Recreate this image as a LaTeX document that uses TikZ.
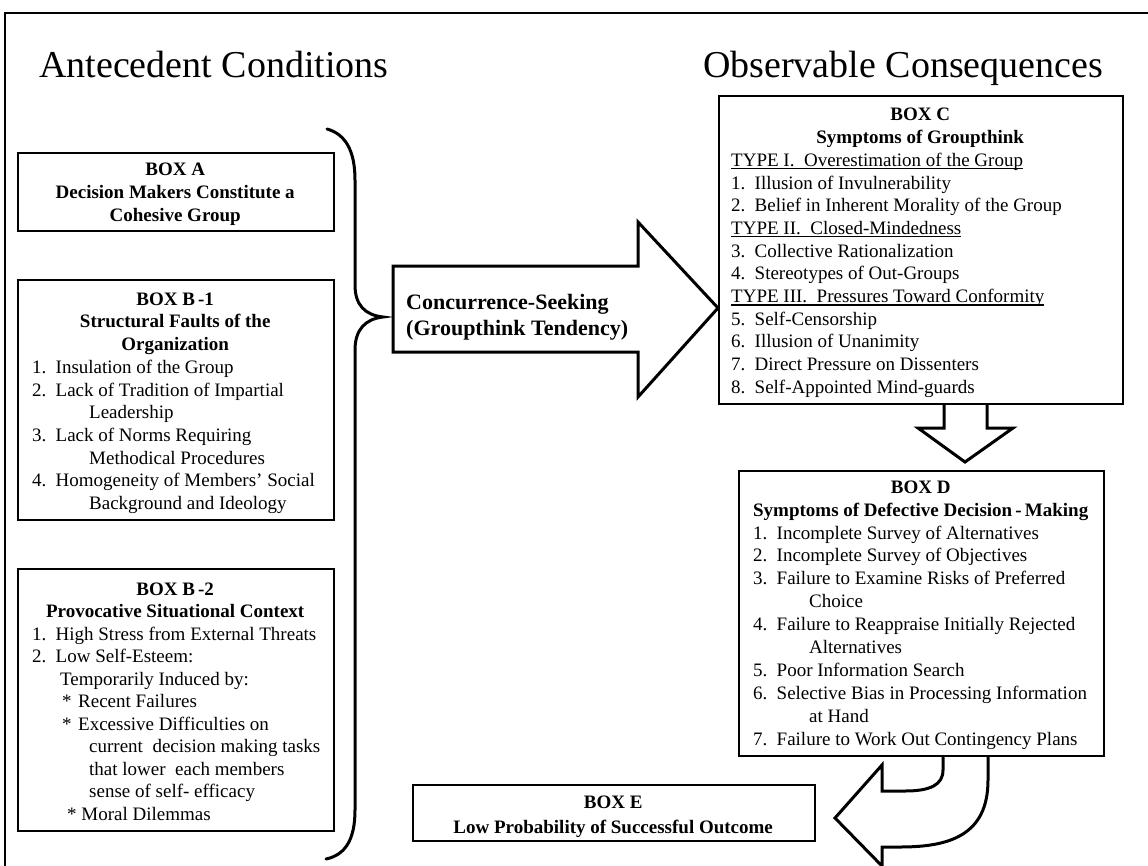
\documentclass[tikz,border=0pt]{standalone}
\usepackage{fontspec}
\setmainfont{Liberation Serif}
\newcommand\fst{\rule{0pt}{15pt}}
\newcommand\cl[2]{\makebox[#1pt][c]{#2}}
\newcommand\nm[1]{\makebox[23.5pt][l]{#1}}
\newcommand\myul[1]{\setbox0\hbox{#1}\rlap{\rule[-3pt]{\wd0}{1.6pt}}\box0}
\begin{document}
\begin{tikzpicture}[x=1pt,y=-1pt,
  box/.style={draw,line width=2pt,inner sep=0,anchor=north west},
  txt/.style={inner sep=0,anchor=north west,align=left,font=\fontsize{19}{22.7}\selectfont},
  title/.style={inner sep=0,anchor=base west,font=\fontsize{38}{44}\selectfont},
  blk/.style={draw,line width=3pt,line join=miter,fill=white},
  brace/.style={draw,line width=3pt,line cap=round}]
\useasboundingbox (0,0) rectangle (1148,865);
% outer frame
\draw[line width=2pt] (5,870) -- (5,13) -- (1150,13);
% titles
\node[title] (tleft) at (39,77) {Antecedent Conditions};
\node[title] (tright) at (703,77) {Observable Consequences};
% boxes
\node[box,minimum width=316pt,minimum height=78pt] (boxA) at (17,152) {};
\node[box,minimum width=316pt,minimum height=240pt] (boxB1) at (17,279) {};
\node[box,minimum width=316pt,minimum height=262pt] (boxB2) at (17,568) {};
\node[box,minimum width=404pt,minimum height=308pt] (boxC) at (718,95) {};
\node[box,minimum width=365pt,minimum height=285pt] (boxD) at (738,470) {};
\node[box,minimum width=402pt,minimum height=56pt] (boxE) at (412,784) {};
% box texts
\node[txt,font=\fontsize{19}{23.3}\selectfont] (textA) at (32,160) {\fst\cl{286}{\textbf{BOX A}}\\
\cl{286}{\textbf{Decision Makers Constitute a}}\\
\cl{286}{\textbf{Cohesive Group}}};
\node[txt] (textB1) at (32,290) {\fst\cl{286}{\textbf{BOX B\,-1}}\\
\cl{286}{\textbf{Structural Faults of the}}\\
\cl{286}{\textbf{Organization}}\\
\nm{1.}Insulation of the Group\\
\nm{2.}Lack of Tradition of Impartial\\
\hspace*{57pt}Leadership\\
\nm{3.}Lack of Norms Requiring\\
\hspace*{57pt}Methodical Procedures\\
\nm{4.}Homogeneity of Members' Social\\
\hspace*{57pt}Background and Ideology};
\node[txt,font=\fontsize{19}{22.5}\selectfont] (textB2) at (32,580) {\fst\cl{286}{\textbf{BOX B\,-2}}\\
\cl{286}{\textbf{Provocative Situational Context}}\\
\nm{1.}High Stress from External Threats\\
\nm{2.}Low Self-Esteem:\\
\hspace*{28pt}Temporarily Induced by:\\
\hspace*{30pt}\makebox[16pt][l]{*}Recent Failures\\
\hspace*{30pt}\makebox[16pt][l]{*}Excessive Difficulties on\\
\hspace*{57pt}current\ \ decision making tasks\\
\hspace*{57pt}that lower\ \ each members\\
\hspace*{57pt}sense of self- efficacy\\
\hspace*{35pt}* Moral Dilemmas};
\node[txt] (textC) at (731,105.7) {\fst\cl{378}{\textbf{BOX C}}\\
\cl{378}{\textbf{Symptoms of Groupthink}}\\
\myul{TYPE I.\ \ Overestimation of the Group}\\
\nm{1.}Illusion of Invulnerability\\
\nm{2.}Belief in Inherent Morality of the Group\\
\myul{TYPE II.\ \ Closed-Mindedness}\\
\nm{3.}Collective Rationalization\\
\nm{4.}Stereotypes of Out-Groups\\
\myul{TYPE III.\ \ Pressures Toward Conformity}\\
\nm{5.}Self-Censorship\\
\nm{6.}Illusion of Unanimity\\
\nm{7.}Direct Pressure on Dissenters\\
\nm{8.}Self-Appointed Mind-guards};
\node[txt,font=\fontsize{19}{22.9}\selectfont] (textD) at (753,478) {\fst\cl{335}{\textbf{BOX D}}\\
\cl{335}{\textbf{Symptoms of Defective Decision\,-\,Making}}\\
\nm{1.}Incomplete Survey of Alternatives\\
\nm{2.}Incomplete Survey of Objectives\\
\nm{3.}Failure to Examine Risks of Preferred\\
\hspace*{56pt}Choice\\
\nm{4.}Failure to Reappraise Initially Rejected\\
\hspace*{56pt}Alternatives\\
\nm{5.}Poor Information Search\\
\nm{6.}Selective Bias in Processing Information\\
\hspace*{56pt}at Hand\\
\nm{7.}Failure to Work Out Contingency Plans};
\node[txt,font=\fontsize{19}{25}\selectfont] (textE) at (412,793) {\fst\cl{402}{\textbf{BOX E}}\\
\cl{402}{\textbf{Low Probability of Successful Outcome}}};
% brace
\coordinate (btip) at (383,317);
\draw[brace] (327,129) .. controls (345,134) and (355,150) .. (355,180) -- (355,285)
  .. controls (355,305) and (365,315) .. (btip)
  .. controls (365,319) and (355,330) .. (355,350) -- (355,810)
  .. controls (355,840) and (345,855) .. (326,859);
% big arrow
\draw[blk] (393,266) -- (638,266) -- (638,222) -- (boxC.west |- 0,308) -- (638,397) -- (638,352) -- (393,352) -- cycle;
\node[inner sep=0,anchor=north west,align=left,font=\fontsize{22}{26.5}\selectfont\bfseries] (cs) at (406,292)
  {\rule{0pt}{17pt}Concurrence-Seeking\\(Groupthink Tendency)};
% arrow C -> D
\draw[blk] (boxC.south -| 944,0) -- (944,428) -- (918,428) -- (965,462) -- (1013,428) -- (987,428) -- (boxC.south -| 987,0);
% curved arrow D -> E
\draw[blk] (boxD.south -| 943,0) -- (943,770) .. controls (943,785) and (930,791) .. (905,791) -- (882,791)
  -- (882,765) -- (835,818) -- (882,866) -- (882,847) -- (900,847)
  .. controls (950,847) and (988,835) .. (988,780) -- (boxD.south -| 988,0);
\end{tikzpicture}
\end{document}
